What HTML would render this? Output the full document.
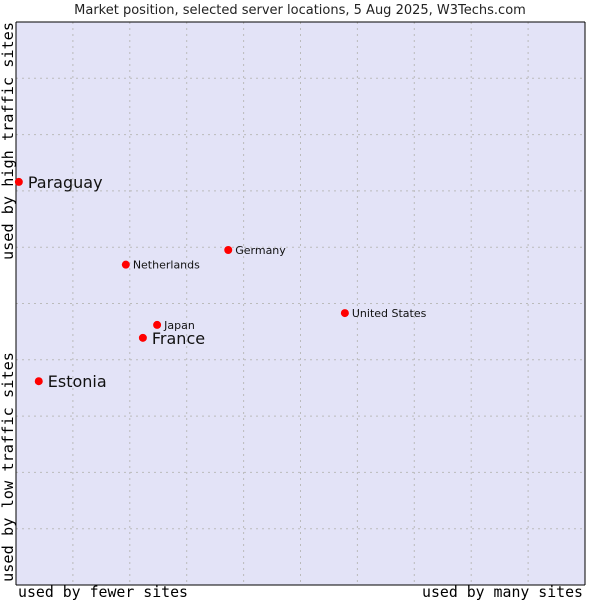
<!DOCTYPE html>
<html><head><meta charset="utf-8"><style>
body{margin:0;background:#fff;width:600px;height:600px;overflow:hidden}
text{font-family:"DejaVu Sans","Liberation Sans",sans-serif}
.mono{font-family:"DejaVu Sans Mono","Liberation Mono",monospace}
</style></head><body>
<svg id="chart" width="600" height="600">
<text x="300" y="14" text-anchor="middle" font-size="13" fill="#222">Market position, selected server locations, 5 Aug 2025, W3Techs.com</text>
<rect x="16" y="22" width="569" height="563" fill="#e3e3f7"/>
<g id="grid"></g>
<line x1="16" y1="22" x2="585" y2="22" stroke="#000"/>
<line x1="16" y1="22" x2="16" y2="585" stroke="#000"/>
<line x1="16" y1="585" x2="585" y2="585" stroke="#000"/>
<line x1="585" y1="22" x2="585" y2="585" stroke="#000"/>
<g id="points"></g>
<text class="mono" x="18" y="597" font-size="15" textLength="170" lengthAdjust="spacingAndGlyphs" fill="#000">used by fewer sites</text>
<text class="mono" x="422" y="597" font-size="15" textLength="161" lengthAdjust="spacingAndGlyphs" fill="#000">used by many sites</text>
<text class="mono" transform="translate(13,260) rotate(-90)" font-size="15" textLength="238" lengthAdjust="spacingAndGlyphs" fill="#000">used by high traffic sites</text>
<text class="mono" transform="translate(13,582) rotate(-90)" font-size="15" textLength="230" lengthAdjust="spacingAndGlyphs" fill="#000">used by low traffic sites</text>
</svg>
<script>
const names=["Paraguay","Estonia","France","Japan","Netherlands","Germany","United States"];
const xVals=[0.5,4.0,22.3,24.8,19.3,37.3,57.8];
const yVals=[71.6,36.2,43.9,46.2,56.9,59.5,48.3];
const bigLabel=[true,true,true,false,false,false,false];
const NS="http://www.w3.org/2000/svg";
const X0=16,X1=585,Y0=585,Y1=22;
const sx=v=>X0+v/100*(X1-X0), sy=v=>Y0-v/100*(Y0-Y1);
const grid=document.getElementById('grid');
for(let i=1;i<10;i++){
  const v=document.createElementNS(NS,'line');
  v.setAttribute('x1',sx(i*10));v.setAttribute('x2',sx(i*10));v.setAttribute('y1',Y1);v.setAttribute('y2',Y0);
  v.setAttribute('stroke','#bbb');v.setAttribute('stroke-dasharray','2,4');
  
  
  grid.appendChild(v);
  const h=document.createElementNS(NS,'line');
  h.setAttribute('y1',sy(i*10));h.setAttribute('y2',sy(i*10));h.setAttribute('x1',X0);h.setAttribute('x2',X1);
  h.setAttribute('stroke','#bbb');h.setAttribute('stroke-dasharray','2,4');
  
  
  grid.appendChild(h);
}
const pts=document.getElementById('points');
names.forEach((n,i)=>{
  const cx=sx(xVals[i]),cy=sy(yVals[i]);
  const c=document.createElementNS(NS,'circle');
  c.setAttribute('cx',cx);c.setAttribute('cy',cy);c.setAttribute('r',4);c.setAttribute('fill','#f00');
  
  
  pts.appendChild(c);
  const t=document.createElementNS(NS,'text');
  t.setAttribute('x',cx+(bigLabel[i]?9:7));t.setAttribute('y',cy+(bigLabel[i]?6:4));
  t.setAttribute('font-size',bigLabel[i]?16:11);t.setAttribute('fill','#111');
  t.textContent=n;
  
  
  pts.appendChild(t);
});
</script>
</body></html>
